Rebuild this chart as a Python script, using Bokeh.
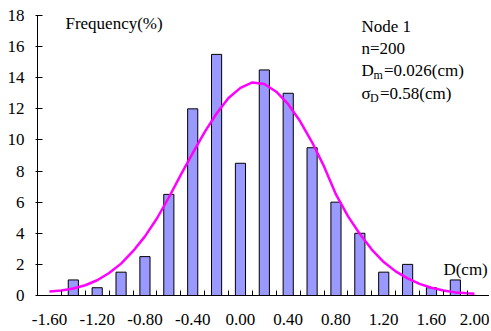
from bokeh.plotting import figure
from bokeh.models import FixedTicker, Range1d
from bokeh.core.properties import value
from bokeh.embed import file_html
from bokeh.resources import INLINE

# Histogram data (class centres, cm) and frequency (%)
bin_centers = [-1.4, -1.2, -1.0, -0.8, -0.6, -0.4, -0.2, 0.0, 0.2, 0.4, 0.6,
               0.8, 1.0, 1.2, 1.4, 1.6, 1.8]
freq = [1.0, 0.5, 1.5, 2.5, 6.5, 12.0, 15.5, 8.5, 14.5, 13.0, 9.5,
        6.0, 4.0, 1.5, 2.0, 0.5, 1.0]

# Fitted curve
curve_x = [-1.6, -1.5, -1.4, -1.3, -1.2, -1.1, -1.0, -0.9, -0.8, -0.7, -0.6,
           -0.5, -0.4, -0.3, -0.2, -0.1, 0.0, 0.1, 0.2, 0.3, 0.4, 0.5, 0.6,
           0.7, 0.8, 0.9, 1.0, 1.1, 1.2, 1.3, 1.4, 1.5, 1.6, 1.7, 1.8, 1.9, 1.96]
curve_y = [0.25, 0.32, 0.45, 0.66, 0.98, 1.45, 2.05, 2.85, 3.8, 4.95, 6.3,
           7.75, 9.15, 10.5, 11.7, 12.7, 13.35, 13.7, 13.6, 13.1, 12.3, 11.2, 9.85,
           8.3, 6.5, 5.1, 3.95, 2.95, 2.15, 1.55, 1.1, 0.75, 0.5, 0.32, 0.2, 0.14, 0.11]

x_labels = [-1.6, -1.2, -0.8, -0.4, 0.0, 0.4, 0.8, 1.2, 1.6, 2.0]
x_minor = [-1.5, -1.3, -1.1, -0.9, -0.7, -0.5, -0.3, -0.1, 0.1, 0.3, 0.5,
           0.7, 0.9, 1.1, 1.3, 1.5, 1.7, 1.9]
y_ticks = [0, 2, 4, 6, 8, 10, 12, 14, 16, 18]

FONT = "Liberation Serif"

p = figure(width=489, height=329, output_backend="svg", toolbar_location=None,
           x_range=Range1d(-1.7, 2.086), y_range=Range1d(0, 18),
           min_border_left=37, min_border_right=0, min_border_top=15,
           min_border_bottom=34)
p.outline_line_color = None
p.xgrid.visible = False
p.ygrid.visible = False
p.background_fill_color = "white"
p.border_fill_color = "white"

p.vbar(x=bin_centers, top=freq, width=0.085, bottom=0,
       fill_color="#9999FF", line_color="black", line_width=1)
p.line(curve_x, curve_y, line_color="#FF00FF", line_width=2.5)

# x axis
xa = p.xaxis[0]
xa.ticker = FixedTicker(ticks=x_labels, minor_ticks=x_minor)
xa.major_label_overrides = {v: f"{v:.2f}" for v in x_labels}
xa.major_tick_line_color = None
xa.major_tick_out = 0
xa.major_tick_in = 0
xa.minor_tick_in = 5
xa.minor_tick_out = 0
xa.minor_tick_line_color = "black"
xa.axis_line_color = "black"
xa.major_label_text_font = FONT
xa.major_label_text_font_size = "17px"
xa.major_label_text_color = "black"
xa.major_label_standoff = 18

# y axis
ya = p.yaxis[0]
ya.ticker = FixedTicker(ticks=y_ticks)
ya.major_tick_in = 5
ya.major_tick_out = 2
ya.minor_tick_line_color = None
ya.axis_line_color = "black"
ya.major_tick_line_color = "black"
ya.major_label_text_font = FONT
ya.major_label_text_font_size = "17px"
ya.major_label_text_color = "black"
ya.major_label_standoff = 11

tf = value(FONT)
# Annotations
p.text(x=[-1.466], y=[17.5], text=["Frequency(%)"], text_font=tf,
       text_font_size="17px", text_baseline="middle", text_color="black")
p.text(x=[1.70], y=[1.70], text=["D(cm)"], text_font=tf,
       text_font_size="17px", text_baseline="middle", text_color="black")

ax = 1.013
p.text(x=[ax, ax], y=[17.29, 15.87], text=["Node 1", "n=200"], text_font=tf,
       text_font_size="17px", text_baseline="middle", text_color="black")
# D_m line
p.text(x=[ax], y=[14.46], text=["D"], text_font=tf, text_font_size="17px",
       text_baseline="middle", text_color="black")
p.text(x=[ax], y=[14.46], text=["m"], text_font=tf, text_font_size="12px",
       text_baseline="middle", text_color="black", x_offset=12, y_offset=4)
p.text(x=[ax], y=[14.46], text=["=0.026(cm)"], text_font=tf, text_font_size="17px",
       text_baseline="middle", text_color="black", x_offset=22.5)
# sigma_D line
p.text(x=[ax], y=[12.96], text=["σ"], text_font=tf, text_font_size="17px",
       text_baseline="middle", text_color="black")
p.text(x=[ax], y=[12.96], text=["D"], text_font=tf, text_font_size="12px",
       text_baseline="middle", text_color="black", x_offset=8.5, y_offset=4)
p.text(x=[ax], y=[12.96], text=["=0.58(cm)"], text_font=tf, text_font_size="17px",
       text_baseline="middle", text_color="black", x_offset=18.5)

open("out.html", "w").write(file_html(p, INLINE))
